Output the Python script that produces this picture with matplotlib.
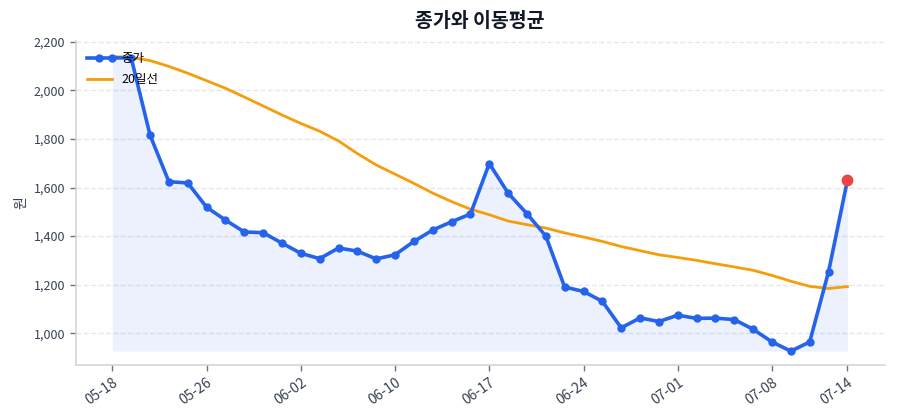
import matplotlib
matplotlib.use("Agg")
import matplotlib.pyplot as plt
from matplotlib.ticker import FuncFormatter
import numpy as np

plt.rcParams['font.family'] = ['Noto Sans CJK KR', 'DejaVu Sans']

dates = ["05-18", "05-19", "05-20", "05-21", "05-22", "05-26", "05-27", "05-28", "05-29", "06-01",
         "06-02", "06-04", "06-05", "06-08", "06-09", "06-10", "06-11", "06-12", "06-15", "06-16",
         "06-17", "06-18", "06-19", "06-22", "06-23", "06-24", "06-25", "06-26", "06-29", "06-30",
         "07-01", "07-02", "07-03", "07-06", "07-07", "07-08", "07-09", "07-10", "07-13", "07-14"]

close = [2134, 2134, 1816, 1624, 1619, 1519, 1466, 1417, 1414, 1371,
         1329, 1307, 1351, 1338, 1306, 1323, 1378, 1425, 1459, 1491,
         1699, 1577, 1492, 1400, 1190, 1172, 1131, 1022, 1063, 1048,
         1074, 1061, 1062, 1056, 1016, 964, 926, 964, 1253, 1629]

ma20 = [2140, 2136, 2123, 2099, 2071, 2040, 2009, 1973, 1936, 1899,
        1864, 1832, 1792, 1740, 1693, 1655, 1617, 1577, 1542, 1511,
        1488, 1462, 1447, 1433, 1413, 1396, 1378, 1357, 1340, 1323,
        1312, 1300, 1286, 1273, 1259, 1238, 1214, 1193, 1184, 1192]

tick_labels = ["05-18", "05-26", "06-02", "06-10", "06-17", "06-24", "07-01", "07-08", "07-14"]

blue = "#2563eb"
orange = "#f59e0b"
red = "#ef4444"

x = np.arange(len(close))
c = np.array(close)

fig = plt.figure(figsize=(9, 4.2), dpi=100)
ax = fig.add_axes([0.084, 0.131, 0.899, 0.771])

ax.fill_between(x, c, c.min(), color=blue, alpha=0.085, linewidth=0)
ax.plot(x, c, color=blue, lw=2.6, marker='o', markersize=5, label='종가', zorder=3)
ax.plot(x, ma20, color=orange, lw=2.0, label='20일선', zorder=2)
ax.plot(x[-1], c[-1], 'o', color=red, markersize=7.5, zorder=4)

ax.set_xlim(-1.95, len(close) - 1 + 1.98)
ax.set_ylim(869, 2203)

tick_pos = [dates.index(t) for t in tick_labels]
ax.set_xticks(tick_pos)
ax.set_xticklabels(tick_labels, rotation=35, ha='right', rotation_mode='anchor')
ax.set_yticks([1000, 1200, 1400, 1600, 1800, 2000, 2200])
ax.yaxis.set_major_formatter(FuncFormatter(lambda v, p: f"{int(v):,}"))

ax.tick_params(axis='both', labelsize=9, colors='#374151', length=4, width=1)
ax.tick_params(axis='x', labelsize=10)
ax.tick_params(axis='both', color='#6b7280')
for s in ['top', 'right']:
    ax.spines[s].set_visible(False)
for s in ['left', 'bottom']:
    ax.spines[s].set_color('#d1d5db')
    ax.spines[s].set_linewidth(1.2)

ax.grid(axis='y', linestyle='--', color='#e5e7eb', linewidth=1)
ax.set_axisbelow(True)

ax.set_ylabel('원', fontsize=10, color='#374151')
ax.set_title('종가와 이동평균', fontsize=14, fontweight='bold', color='#111827', pad=10)

leg = ax.legend(loc='upper left', frameon=False, fontsize=9, borderaxespad=0.5,
                handlelength=2.0, labelspacing=0.6)

fig.savefig('out.png', dpi=100)
